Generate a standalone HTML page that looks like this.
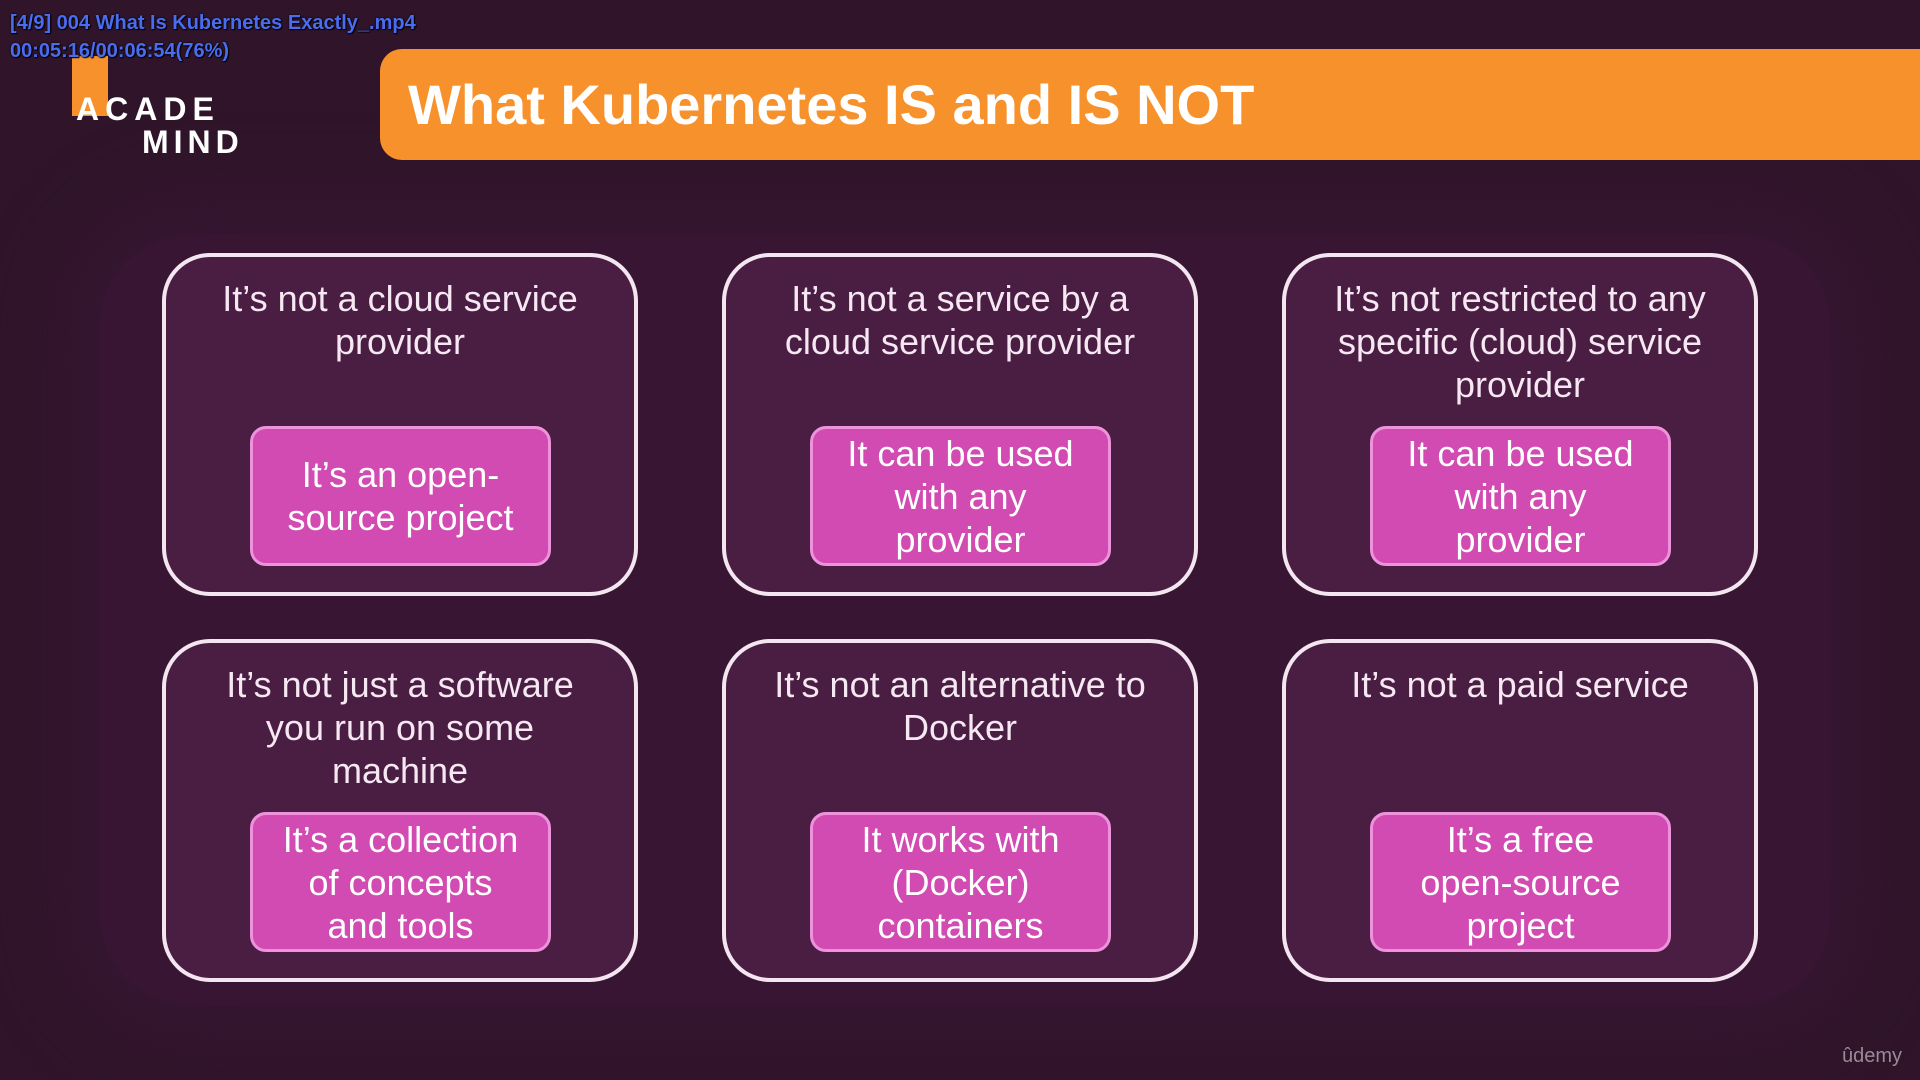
<!DOCTYPE html>
<html><head><meta charset="utf-8"><style>
*{margin:0;padding:0;box-sizing:border-box}
body{width:1920px;height:1080px;background:#30152a;position:relative;overflow:hidden;font-family:"Liberation Sans",sans-serif;color:#f6e8f2}
.panel{position:absolute;left:100px;top:235px;width:1730px;height:770px;border-radius:90px;background:#381633;box-shadow:0 0 70px 40px #361631}
.bar{position:absolute;left:380px;top:49px;width:1560px;height:111px;background:#f7912b;border-radius:22px 0 0 22px}
.title{position:absolute;left:408px;top:72px;font-size:56px;font-weight:bold;color:#fff;white-space:nowrap}
.card{position:absolute;width:476px;height:343px;border:4px solid #f4e6f0;border-radius:48px;background:#4a1d43;text-align:center}
.card .t{position:absolute;left:0;right:0;top:20px;font-size:36px;line-height:43px;white-space:nowrap}
.pk{position:absolute;left:84px;width:301px;height:140px;border:3px solid #ee92dc;border-radius:16px;background:#d14bb2;display:flex;align-items:center;justify-content:center;font-size:36px;line-height:43px;color:#fff;text-align:center;white-space:nowrap}
.ov{position:absolute;left:10px;font-size:20px;font-weight:bold;color:#4a6cf0;text-shadow:0 0 2px #000,1px 1px 1px #000}
.logo{position:absolute;font-weight:bold;color:#fff;letter-spacing:5px}
</style></head><body>
<div class="panel"></div>
<div class="bar"></div>
<div class="title">What Kubernetes IS and IS NOT</div>
<div style="position:absolute;left:72px;top:56px;width:36px;height:60px;background:#f7912b"></div>
<div class="logo" style="left:76px;top:91px;font-size:32px;letter-spacing:6px">ACADE</div>
<div class="logo" style="left:142px;top:124px;font-size:32px">MIND</div>
<div class="ov" style="top:12px">[4/9] 004 What Is Kubernetes Exactly_.mp4</div>
<div class="ov" style="top:40px">00:05:16/00:06:54(76%)</div>

<div class="card" style="left:162px;top:253px"><div class="t">It’s not a cloud service<br>provider</div><div class="pk" style="top:169px">It’s an open-<br>source project</div></div>
<div class="card" style="left:722px;top:253px"><div class="t">It’s not a service by a<br>cloud service provider</div><div class="pk" style="top:169px">It can be used<br>with any<br>provider</div></div>
<div class="card" style="left:1282px;top:253px"><div class="t">It’s not restricted to any<br>specific (cloud) service<br>provider</div><div class="pk" style="top:169px">It can be used<br>with any<br>provider</div></div>
<div class="card" style="left:162px;top:639px"><div class="t">It’s not just a software<br>you run on some<br>machine</div><div class="pk" style="top:169px">It’s a collection<br>of concepts<br>and tools</div></div>
<div class="card" style="left:722px;top:639px"><div class="t">It’s not an alternative to<br>Docker</div><div class="pk" style="top:169px">It works with<br>(Docker)<br>containers</div></div>
<div class="card" style="left:1282px;top:639px"><div class="t">It’s not a paid service</div><div class="pk" style="top:169px">It’s a free<br>open-source<br>project</div></div>
<div style="position:absolute;left:1842px;top:1045px;font-size:20px;color:#9a8a96">ûdemy</div>
</body></html>
